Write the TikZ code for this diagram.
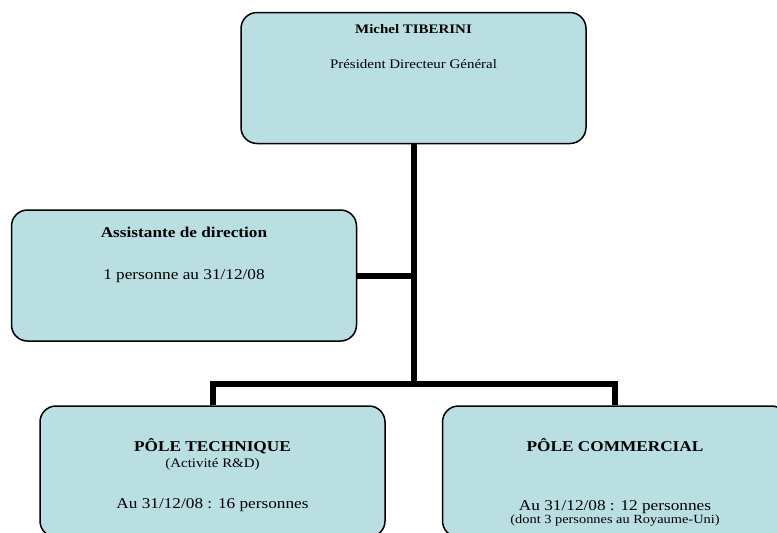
\documentclass[tikz,border=0pt]{standalone}
\usepackage{fontspec}
\setmainfont{Liberation Serif}[FakeStretch=1.15]
\definecolor{boxfill}{RGB}{185,223,227}
\tikzset{
  orgbox/.style={draw=black, line width=1.5pt, fill=boxfill, rounded corners=16pt,
    minimum width=345pt, minimum height=131pt, inner sep=0pt},
  conn/.style={draw=black, line width=6pt},
  txt/.style={anchor=base, inner sep=0pt},
  big/.style={font=\fontsize{15}{18}\selectfont},
  mid/.style={font=\fontsize{13}{15.6}\selectfont},
  small/.style={font=\fontsize{12.5}{15}\selectfont},
}
\begin{document}
\begin{tikzpicture}[x=1pt,y=-1pt]
\clip (0,0) rectangle (777,533);
\fill[white] (0,0) rectangle (777,533);
% boxes
\node[orgbox] (pdg) at (413.5,78) {};
\node[orgbox] (asst) at (184,275.5) {};
\node[orgbox] (tech) at (212.5,471.5) {};
\node[orgbox] (comm) at (615,471.5) {};
% connectors
\coordinate (hub) at (413.5,384);
\draw[conn] (pdg.south) -- (hub);
\draw[conn] (asst.east) -- (asst.east -| pdg.south);
\draw[conn] (tech.north) |- (hub) -| (comm.north);
% texts
\node[txt,mid] (t1) at (413.5,33) {\bfseries Michel TIBERINI};
\node[txt,mid] (t2) at (413.5,68) {Président Directeur Général};
\node[txt,big] (a1) at (184,237) {\bfseries Assistante de direction};
\node[txt,big] (a2) at (184,279) {1 personne au 31/12/08};
\node[txt,big] (b1) at (212.5,451) {\bfseries PÔLE TECHNIQUE};
\node[txt,mid] (b2) at (212.5,467) {(Activité R\&D)};
\node[txt,big] (b3) at (212.5,508.5) {Au 31/12/08 : 16 personnes};
\node[txt,big] (c1) at (615,451) {\bfseries PÔLE COMMERCIAL};
\node[txt,big] (c2) at (615,510.5) {Au 31/12/08 : 12 personnes};
\node[txt,small] (c3) at (615,523.5) {(dont 3 personnes au Royaume-Uni)};
\end{tikzpicture}
\end{document}
